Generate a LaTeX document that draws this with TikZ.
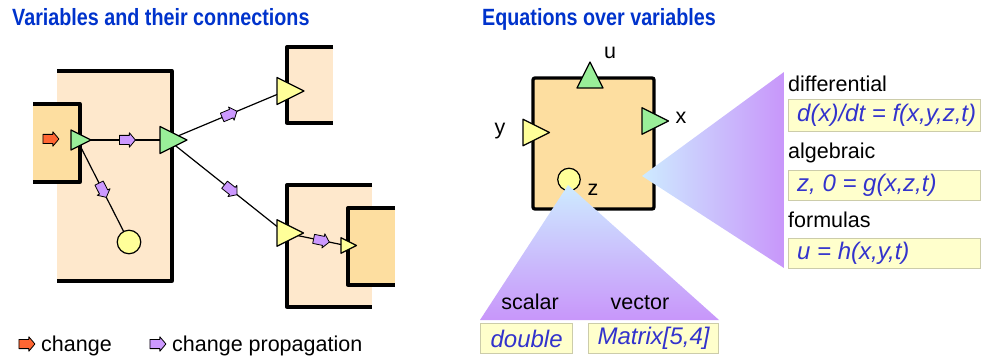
\documentclass[tikz,border=0pt]{standalone}
\usepackage{fontspec}
\usepackage{graphicx}
\setmainfont{Liberation Sans}
\usetikzlibrary{shapes.geometric,shapes.arrows}
\definecolor{peach}{RGB}{254,232,204}
\definecolor{boxor}{RGB}{253,222,160}
\definecolor{tgreen}{RGB}{153,238,153}
\definecolor{tyellow}{RGB}{255,255,153}
\definecolor{chorange}{RGB}{255,102,51}
\definecolor{prop}{RGB}{204,153,255}
\definecolor{eqblue}{RGB}{51,51,204}
\definecolor{eqfill}{RGB}{255,255,204}
\definecolor{eqborder}{RGB}{204,204,170}
\definecolor{titleblue}{RGB}{0,51,204}
\definecolor{gradblue}{RGB}{205,235,255}
\definecolor{gradpurple}{RGB}{200,150,250}
\tikzset{
  fillbox/.style={draw=none, inner sep=0pt, outer sep=0pt, anchor=north west},
  boxborder/.style={line width=3.3pt, line join=round},
  tri/.style={isosceles triangle, isosceles triangle stretches, draw, line width=1.2pt,
    line join=round, inner sep=0pt, outer sep=0pt, minimum width=#1, minimum height=#1,
    anchor=lower side},
  ring/.style={circle, draw, fill=tyellow, line width=1.2pt, inner sep=0pt, outer sep=0pt},
  conn/.style={line width=1.2pt},
  parrow/.style={single arrow, draw, fill=prop, line width=0.8pt, line join=round,
    inner xsep=0pt, inner ysep=4.2pt, minimum height=16pt,
    single arrow head extend=2.6pt, single arrow tip angle=100, outer sep=0pt, sloped},
  lbl/.style={font=\fontsize{21.5}{24}\selectfont, inner sep=0pt},
  titletxt/.style={font=\fontsize{23.5}{26}\selectfont\bfseries, text=titleblue, inner sep=0pt, anchor=base west},
  eqbox/.style={draw=eqborder, fill=eqfill, line width=1.2pt, inner sep=0pt, anchor=north west},
  eqtxt/.style={font=\fontsize{24}{28}\selectfont\itshape, text=eqblue, inner sep=0pt},
}
\begin{document}
\begin{tikzpicture}[x=1pt, y=-1pt]
\useasboundingbox (0,0) rectangle (982,358);

% titles
\node[titletxt] (t1) at (12,26) {\scalebox{0.84}[1]{Variables and their connections}};
\node[titletxt] (t2) at (482,26) {\scalebox{0.84}[1]{Equations over variables}};

% ---------- left panel ----------
\node[fillbox, fill=peach, minimum width=115pt, minimum height=210pt] (B1) at (57,71) {};
\draw[boxborder] (B1.north west) -- (B1.north east) -- (B1.south east) -- (B1.south west);
\node[fillbox, fill=boxor, minimum width=47pt, minimum height=78pt] (B0) at (33,104) {};
\draw[boxborder] (B0.north west) -- (B0.north east) -- (B0.south east) -- (B0.south west);
\node[fillbox, fill=peach, minimum width=46pt, minimum height=76pt] (B2) at (287,47) {};
\draw[boxborder] (B2.north east) -- (B2.north west) -- (B2.south west) -- (B2.south east);
\node[fillbox, fill=peach, minimum width=85pt, minimum height=122pt] (B3) at (287,185) {};
\draw[boxborder] (B3.north east) -- (B3.north west) -- (B3.south west) -- (B3.south east);
\node[fillbox, fill=boxor, minimum width=47pt, minimum height=77pt] (B4) at (348,208) {};
\draw[boxborder] (B4.north east) -- (B4.north west) -- (B4.south west) -- (B4.south east);

\node[tri=20pt, fill=tgreen] (g1) at (71,140) {};
\node[tri=27pt, fill=tgreen] (g2) at (160,140) {};
\node[tri=27pt, fill=tyellow] (y1) at (277,91) {};
\node[tri=26.5pt, fill=tyellow] (y2) at (277,233) {};
\node[tri=15.5pt, fill=tyellow] (y3) at (341,245.5) {};
\node[ring, minimum size=23.5pt] (c1) at (129,242) {};
\node[parrow, fill=chorange] (ch) at (49,139) {};

\draw[conn] (g1) -- node[parrow]{} (g2);
\draw[conn] (g1) -- node[parrow]{} (c1);
\draw[conn] (g2) -- node[parrow]{} (y1);
\draw[conn] (g2) -- node[parrow, pos=0.53]{} (y2);
\draw[conn] (y2) -- node[parrow]{} (y3);

% legend
\node[parrow, fill=chorange] (lg1) at (25,344) {};
\node[lbl, anchor=base west] (lt1) at (41,351) {change};
\node[parrow] (lg2) at (156,344) {};
\node[lbl, anchor=base west] (lt2) at (172,351) {change propagation};

% ---------- right panel ----------
\node[fillbox, fill=boxor, draw, line width=3.3pt, rounded corners=2pt,
      minimum width=121pt, minimum height=131pt] (R) at (533,78) {};
\node[tri=26pt, fill=tgreen, shape border rotate=90] (gu) at (590,88) {};
\node[tri=26.5pt, fill=tyellow] (gy) at (523,132.5) {};
\node[tri=26.5pt, fill=tgreen] (gx) at (642,121) {};
\node[ring, minimum size=22.5pt] (cz) at (569,179.5) {};

\shade[left color=gradblue, right color=gradpurple] (642,176) -- (784,72) -- (784,268) -- cycle;
\shade[top color=gradblue, bottom color=gradpurple] (568,185) -- (719,320) -- (480,320) -- cycle;

\node[lbl, anchor=base] (lu) at (610,59) {u};
\node[lbl, anchor=base] (ly) at (500,135) {y};
\node[lbl, anchor=base] (lx) at (681,124) {x};
\node[lbl, anchor=base] (lz) at (593,196) {z};

% equations
\node[lbl, anchor=base west] (d1) at (788,92) {differential};
\node[eqbox, minimum width=192pt, minimum height=32pt] (e1) at (788,99) {};
\node[eqtxt, anchor=west] (et1) at ([xshift=9pt]e1.west) {d(x)/dt = f(x,y,z,t)};
\node[lbl, anchor=base west] (d2) at (788,159) {algebraic};
\node[eqbox, minimum width=192pt, minimum height=30pt] (e2) at (788,170) {};
\node[eqtxt, anchor=west] (et2) at ([xshift=9pt]e2.west) {z, 0 = g(x,z,t)};
\node[lbl, anchor=base west] (d3) at (788,227) {formulas};
\node[eqbox, minimum width=192pt, minimum height=30pt] (e3) at (788,238) {};
\node[eqtxt, anchor=west] (et3) at ([xshift=9pt]e3.west) {u = h(x,y,t)};

% types
\node[lbl, anchor=base] (s1) at (530,309) {scalar};
\node[lbl, anchor=base] (s2) at (640,309) {vector};
\node[eqbox, minimum width=92pt, minimum height=30pt] (v1) at (480,323) {};
\node[eqtxt] (vt1) at (v1.center) {double};
\node[eqbox, minimum width=130pt, minimum height=30pt] (v2) at (588,323) {};
\node[eqtxt] (vt2) at (v2.center) {Matrix[5,4]};
\end{tikzpicture}
\end{document}
